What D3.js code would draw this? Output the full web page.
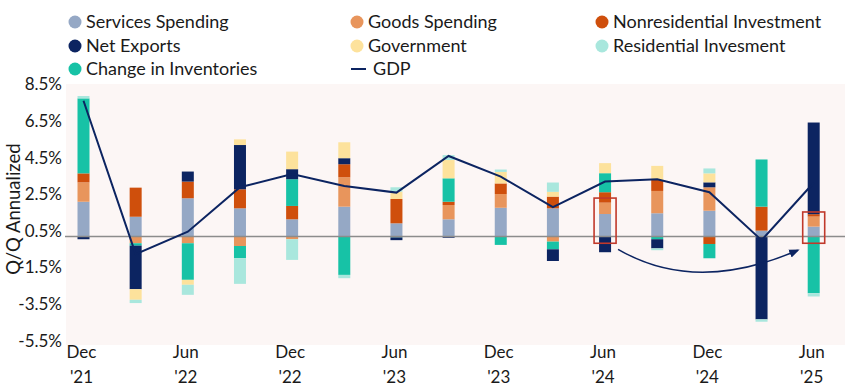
<!DOCTYPE html>
<html>
<head>
<meta charset="utf-8">
<script src="https://cdn.jsdelivr.net/npm/d3@7"></script>
<style>
  html, body { margin: 0; padding: 0; background: #ffffff; }
  svg { display: block; font-family: Lato, "Open Sans", sans-serif; }
</style>
</head>
<body>
<svg id="chart" width="845" height="392"></svg>
<script>
// ---- data ----
const quarters = ["Dec '21","Mar '22","Jun '22","Sep '22","Dec '22","Mar '23","Jun '23","Sep '23","Dec '23","Mar '24","Jun '24","Sep '24","Dec '24","Mar '25","Jun '25"];
const tickQuarters = ["Dec '21","Jun '22","Dec '22","Jun '23","Dec '23","Jun '24","Dec '24","Jun '25"];
const yTicks = [8.5, 6.5, 4.5, 2.5, 0.5, -1.5, -3.5, -5.5];

const services    = [1.90, 1.08, 2.09, 1.54, 0.94, 1.63, 0.72, 0.94, 1.57, 1.54, 1.23, 1.27, 1.41, 0.32, 0.54];
const goods       = [1.06, -0.37, -0.37, -0.52, -0.15, 1.61, 0.00, 0.78, 0.75, -0.28, 0.62, 1.22, 1.28, 0.00, 0.55];
const nonres      = [0.49, 1.59, 0.91, 1.04, 0.73, 0.71, 1.33, 0.18, 0.58, 0.64, 0.57, 0.60, -0.41, 1.31, 0.13];
const inventories = [4.10, -0.13, -2.00, -0.67, 1.46, -2.10, -0.05, 1.28, -0.46, -0.42, 1.04, -0.15, -0.78, 2.58, -3.10];
const netExports  = [-0.15, -2.38, 0.55, 2.42, 0.55, 0.33, -0.15, -0.07, 0.00, -0.64, -0.86, -0.50, 0.27, -4.53, 5.01];
const government  = [0.00, -0.58, -0.27, 0.31, 0.96, 0.87, 0.40, 1.00, 0.63, 0.26, 0.55, 0.77, 0.49, 0.00, 0.00];
const residential = [0.13, -0.18, -0.55, -1.40, -1.13, -0.18, 0.24, 0.27, 0.13, 0.51, 0.00, -0.10, 0.27, -0.13, -0.18];
const gdp         = [7.42, -0.96, 0.26, 2.69, 3.42, 2.76, 2.40, 4.40, 3.27, 1.60, 3.00, 3.13, 2.42, -0.20, 2.94];

const highlighted = ["Jun '24", "Jun '25"];

// ---- series definitions ----
const seriesDefs = [
  {key: "services",    label: "Services Spending",        color: "#95a8c5", values: services},
  {key: "goods",       label: "Goods Spending",           color: "#e8955c", values: goods},
  {key: "nonres",      label: "Nonresidential Investment",color: "#cf4f0c", values: nonres},
  {key: "inventories", label: "Change in Inventories",    color: "#17c2a6", values: inventories},
  {key: "netExports",  label: "Net Exports",              color: "#0c2461", values: netExports},
  {key: "government",  label: "Government",               color: "#fde29c", values: government},
  {key: "residential", label: "Residential Invesment",    color: "#a9e7dd", values: residential}
];
const colorOf = Object.fromEntries(seriesDefs.map(s => [s.key, s.color]));
const rows = quarters.map((q, i) => {
  const r = {q};
  seriesDefs.forEach(s => r[s.key] = s.values[i]);
  return r;
});

const svg = d3.select("#chart");
const plot = {left: 66, right: 845, top: 84, bottom: 345};

const x = d3.scalePoint().domain(quarters).range([83.5, 813.7]);
const y = d3.scaleLinear().domain([-5.5, 8.5]).range([337.1, 81.0]);
const barW = 12;

// plot background
svg.append("rect")
  .attr("x", plot.left).attr("y", plot.top)
  .attr("width", plot.right - plot.left).attr("height", plot.bottom - plot.top)
  .attr("fill", "#fcf6f5");

// stacked bars
const stack = d3.stack().keys(seriesDefs.map(s => s.key)).offset(d3.stackOffsetDiverging);
const stacked = stack(rows);
svg.append("g").selectAll("g").data(stacked).join("g")
  .attr("fill", d => colorOf[d.key])
  .selectAll("rect").data(d => d).join("rect")
  .attr("x", d => x(d.data.q) - barW / 2)
  .attr("width", barW)
  .attr("y", d => y(Math.max(d[0], d[1])))
  .attr("height", d => Math.abs(y(d[0]) - y(d[1])));

// zero line
svg.append("line")
  .attr("x1", plot.left - 1).attr("x2", plot.right)
  .attr("y1", y(0)).attr("y2", y(0))
  .attr("stroke", "#8c8c8c").attr("stroke-width", 1.5);

// GDP line
svg.append("path")
  .datum(gdp)
  .attr("fill", "none")
  .attr("stroke", "#0c2461")
  .attr("stroke-width", 2)
  .attr("d", d3.line().x((d, i) => x(quarters[i])).y(d => y(d)));

// highlight boxes around consumer spending
highlighted.forEach(q => {
  const i = quarters.indexOf(q);
  const top = Math.max(0, services[i]) + Math.max(0, goods[i]) + 0.25;
  svg.append("rect")
    .attr("x", x(q) - 11).attr("width", 22)
    .attr("y", y(top)).attr("height", y(-0.37) - y(top))
    .attr("fill", "none").attr("stroke", "#c0392b").attr("stroke-width", 1.6);
});

// arrow
svg.append("defs").append("marker")
  .attr("id", "ah").attr("viewBox", "0 0 10 10")
  .attr("refX", 8).attr("refY", 5)
  .attr("markerWidth", 7).attr("markerHeight", 7)
  .attr("orient", "auto")
  .append("path").attr("d", "M0,1 L10,5 L0,9 Z").attr("fill", "#0c2461");
{
  const x0 = x("Jun '24") + 13, x1 = x("Jun '25") - 16;
  const ya = y(-0.7);
  const yb = y(-2.3);
  const p = d3.path();
  p.moveTo(x0, ya);
  p.bezierCurveTo(x0 + 50, yb, x1 - 70, yb + 2, x1, ya + 1);
  svg.append("path").attr("d", p.toString())
    .attr("fill", "none").attr("stroke", "#0c2461").attr("stroke-width", 1.5)
    .attr("marker-end", "url(#ah)");
}

// y axis labels
svg.append("g").selectAll("text").data(yTicks).join("text")
  .attr("x", 62).attr("y", d => y(d) + 3.5)
  .attr("dy", "0.35em")
  .attr("text-anchor", "end")
  .attr("font-size", 17).attr("fill", "#1a1a1a")
  .text(d => d.toFixed(1) + "%");

svg.append("text")
  .attr("transform", `translate(20,${y(1.5)}) rotate(-90)`)
  .attr("text-anchor", "middle")
  .attr("font-size", 18.5).attr("fill", "#1a1a1a")
  .text("Q/Q Annualized");

// x axis labels
const xl = svg.append("g").selectAll("text").data(tickQuarters).join("text")
  .attr("text-anchor", "middle")
  .attr("font-size", 17).attr("fill", "#1a1a1a");
xl.append("tspan").attr("x", d => x(d) - 2).attr("y", 358).text(d => d.split(" ")[0]);
xl.append("tspan").attr("x", d => x(d) - 2).attr("y", 383).text(d => d.split(" ")[1]);

// legend
const legendItems = [
  {key: "services", col: 0, row: 0},
  {key: "goods", col: 1, row: 0},
  {key: "nonres", col: 2, row: 0},
  {key: "netExports", col: 0, row: 1},
  {key: "government", col: 1, row: 1},
  {key: "residential", col: 2, row: 1},
  {key: "inventories", col: 0, row: 2},
  {key: "gdp", col: 1, row: 2}
];
const colX = [75, 357, 602];
const rowY = [22, 46, 69];
const lg = svg.append("g").selectAll("g").data(legendItems).join("g")
  .attr("transform", d => `translate(${colX[d.col]},${rowY[d.row]})`);
lg.filter(d => d.key !== "gdp").append("circle")
  .attr("r", 6.5).attr("fill", d => colorOf[d.key]);
lg.filter(d => d.key === "gdp").append("line")
  .attr("x1", -6).attr("x2", 9).attr("stroke", "#0c2461").attr("stroke-width", 2);
lg.append("text")
  .attr("x", d => d.key === "gdp" ? 16 : 11)
  .attr("dy", "0.35em")
  .attr("font-size", 18).attr("fill", "#1a1a1a")
  .text(d => d.key === "gdp" ? "GDP" : seriesDefs.find(s => s.key === d.key).label);
</script>
</body>
</html>
